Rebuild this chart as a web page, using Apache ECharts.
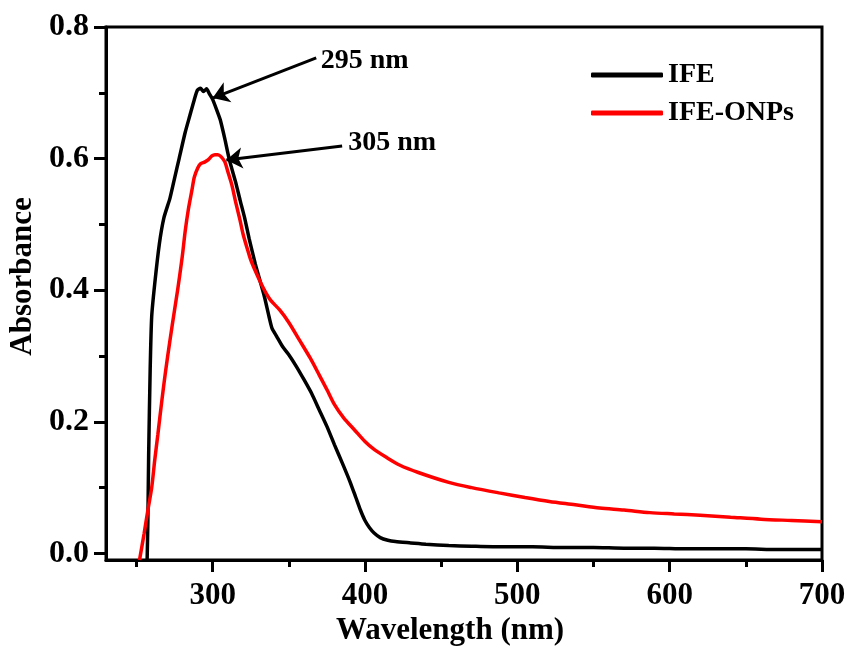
<!DOCTYPE html>
<html>
<head>
<meta charset="utf-8">
<script src="https://cdn.jsdelivr.net/npm/echarts@6/dist/echarts.min.js"></script>
<style>
  html, body { margin: 0; padding: 0; background: #fff; }
  #chart { width: 848px; height: 646px; }
</style>
</head>
<body>
<div id="chart"></div>
<script>
// UV-Vis absorbance spectra
const FONT = "'Liberation Serif', 'Times New Roman', serif";

// IFE spectrum: wavelength (nm) / absorbance
const ifeWavelength = [257, 257.5, 258, 259, 260, 262, 265, 268, 272, 275, 278, 282, 285, 288, 290, 292, 294, 296, 298, 300, 303, 305, 308, 311, 315, 318, 321, 324, 328, 331, 334, 337, 339, 342, 346, 350, 355, 360, 365, 370, 375, 380, 385, 390, 394, 397, 400, 403, 406, 410, 415, 420, 430, 440, 455, 470, 490, 510, 530, 550, 570, 590, 610, 630, 650, 670, 690, 700];
const ifeAbsorbance = [-0.01, 0.05, 0.15, 0.28, 0.36, 0.41, 0.47, 0.51, 0.54, 0.57, 0.60, 0.64, 0.665, 0.69, 0.704, 0.707, 0.702, 0.706, 0.698, 0.69, 0.672, 0.659, 0.63, 0.598, 0.565, 0.537, 0.51, 0.478, 0.44, 0.415, 0.39, 0.36, 0.342, 0.33, 0.314, 0.302, 0.284, 0.264, 0.243, 0.218, 0.193, 0.165, 0.138, 0.11, 0.085, 0.066, 0.05, 0.039, 0.031, 0.024, 0.02, 0.018, 0.016, 0.014, 0.012, 0.011, 0.01, 0.01, 0.009, 0.009, 0.008, 0.008, 0.007, 0.007, 0.007, 0.006, 0.006, 0.006];

// IFE-ONPs spectrum: wavelength (nm) / absorbance
const onpWavelength = [252, 255, 257.5, 260, 262, 264, 266.7, 269, 272, 275, 277, 280, 282, 284, 286.4, 288, 290.3, 292, 295, 297, 299.5, 301.5, 303.4, 305.5, 308, 310, 312.6, 315, 318, 320, 323, 325, 327.7, 331, 334, 338, 344, 350, 357, 364, 370, 375, 380, 386, 393, 400, 406, 414, 423, 435, 455, 470, 488, 505, 521, 538, 554, 570, 587, 603, 620, 640, 660, 680, 700];
const onpAbsorbance = [-0.01, 0.03, 0.066, 0.1, 0.142, 0.18, 0.233, 0.275, 0.324, 0.37, 0.4, 0.45, 0.49, 0.522, 0.552, 0.572, 0.586, 0.592, 0.595, 0.598, 0.604, 0.606, 0.606, 0.603, 0.595, 0.58, 0.56, 0.535, 0.506, 0.485, 0.461, 0.446, 0.431, 0.414, 0.40, 0.385, 0.37, 0.351, 0.324, 0.297, 0.271, 0.249, 0.226, 0.206, 0.188, 0.17, 0.158, 0.146, 0.134, 0.123, 0.108, 0.1, 0.092, 0.085, 0.079, 0.074, 0.069, 0.066, 0.062, 0.06, 0.058, 0.055, 0.052, 0.05, 0.048];

// Axis ticks
const xMajorTicks = [300, 400, 500, 600, 700];
const xMinorTicks = [250, 350, 450, 550, 650];
const yMajorTicks = [0.0, 0.2, 0.4, 0.6, 0.8];
const yMinorTicks = [0.1, 0.3, 0.5, 0.7];

// Peak annotations: label text, label anchor, arrow tail, arrow tip (data space)
const peakLabels = ['295 nm', '305 nm'];
const peakLabelAt = [[371, 0.749], [389, 0.624]];
const peakArrowFrom = [[368, 0.753], [385, 0.619]];
const peakArrowTo = [[300, 0.692], [309, 0.598]];

const seriesNames = ['IFE', 'IFE-ONPs'];
const seriesColors = ['#000000', '#ff0000'];

const zip = (xs, ys) => xs.map((x, i) => [x, ys[i]]);

const chart = echarts.init(document.getElementById('chart'), null, { renderer: 'canvas' });

const textBase = { fontFamily: FONT, fontWeight: 'bold', color: '#000' };

function annotation(i) {
  return {
    markLine: {
      silent: true,
      symbol: ['none', 'arrow'],
      symbolSize: 16,
      label: { show: false },
      lineStyle: { color: '#000', width: 3, type: 'solid' },
      emphasis: { disabled: true },
      data: [[{ coord: peakArrowFrom[i] }, { coord: peakArrowTo[i] }]]
    },
    markPoint: {
      silent: true,
      symbol: 'circle',
      symbolSize: 0,
      label: {
        show: true,
        position: 'right',
        distance: 0,
        formatter: peakLabels[i],
        ...textBase,
        fontSize: 28
      },
      data: [{ coord: peakLabelAt[i] }]
    }
  };
}

const option = {
  animation: false,
  backgroundColor: '#fff',
  grid: {
    left: 106, right: 26, top: 27, bottom: 86,
    outerBoundsMode: 'none',
    containLabel: false,
    show: true, borderColor: '#000', borderWidth: 3
  },
  legend: {
    orient: 'vertical',
    left: 586, top: 55,
    itemWidth: 72, itemHeight: 5,
    itemGap: 8,
    icon: 'roundRect',
    textStyle: { ...textBase, fontSize: 28, lineHeight: 30 },
    data: seriesNames
  },
  xAxis: [
    {
      type: 'value', min: 230, max: 700,
      name: 'Wavelength (nm)', nameLocation: 'middle', nameGap: 54,
      nameTextStyle: { ...textBase, fontSize: 31, padding: [0, 28, 0, 0] },
      axisLine: { show: true, onZero: false, lineStyle: { color: '#000', width: 3 } },
      axisTick: { show: true, inside: false, length: 12, lineStyle: { color: '#000', width: 3 }, customValues: xMajorTicks },
      axisLabel: { show: true, margin: 20, ...textBase, fontSize: 31, customValues: xMajorTicks },
      splitLine: { show: false }
    },
    {
      type: 'value', min: 230, max: 700, position: 'bottom',
      axisLine: { show: false, onZero: false },
      axisTick: { show: true, length: 7, lineStyle: { color: '#000', width: 3 }, customValues: xMinorTicks },
      axisLabel: { show: false },
      splitLine: { show: false }
    }
  ],
  yAxis: [
    {
      type: 'value', min: -0.01, max: 0.8,
      name: 'Absorbance', nameLocation: 'middle', nameGap: 54, nameRotate: 90,
      nameTextStyle: { ...textBase, fontSize: 31, padding: [0, 0, 0, 34] },
      axisLine: { show: true, onZero: false, lineStyle: { color: '#000', width: 3 } },
      axisTick: { show: true, inside: false, length: 12, lineStyle: { color: '#000', width: 3 }, customValues: yMajorTicks },
      axisLabel: { show: true, margin: 17, ...textBase, fontSize: 32, customValues: yMajorTicks, formatter: v => v.toFixed(1) },
      splitLine: { show: false }
    },
    {
      type: 'value', min: -0.01, max: 0.8, position: 'left',
      axisLine: { show: false, onZero: false },
      axisTick: { show: true, length: 7, lineStyle: { color: '#000', width: 3 }, customValues: yMinorTicks },
      axisLabel: { show: false },
      splitLine: { show: false }
    }
  ],
  series: [
    {
      name: seriesNames[0], type: 'line', showSymbol: false, symbol: 'none',
      smooth: 0.2, clip: true,
      color: seriesColors[0],
      lineStyle: { color: seriesColors[0], width: 3.5 },
      data: zip(ifeWavelength, ifeAbsorbance),
      ...annotation(0)
    },
    {
      name: seriesNames[1], type: 'line', showSymbol: false, symbol: 'none',
      smooth: 0.3, clip: true,
      color: seriesColors[1],
      lineStyle: { color: seriesColors[1], width: 3.5 },
      data: zip(onpWavelength, onpAbsorbance),
      ...annotation(1)
    }
  ]
};

chart.setOption(option);
</script>
</body>
</html>
